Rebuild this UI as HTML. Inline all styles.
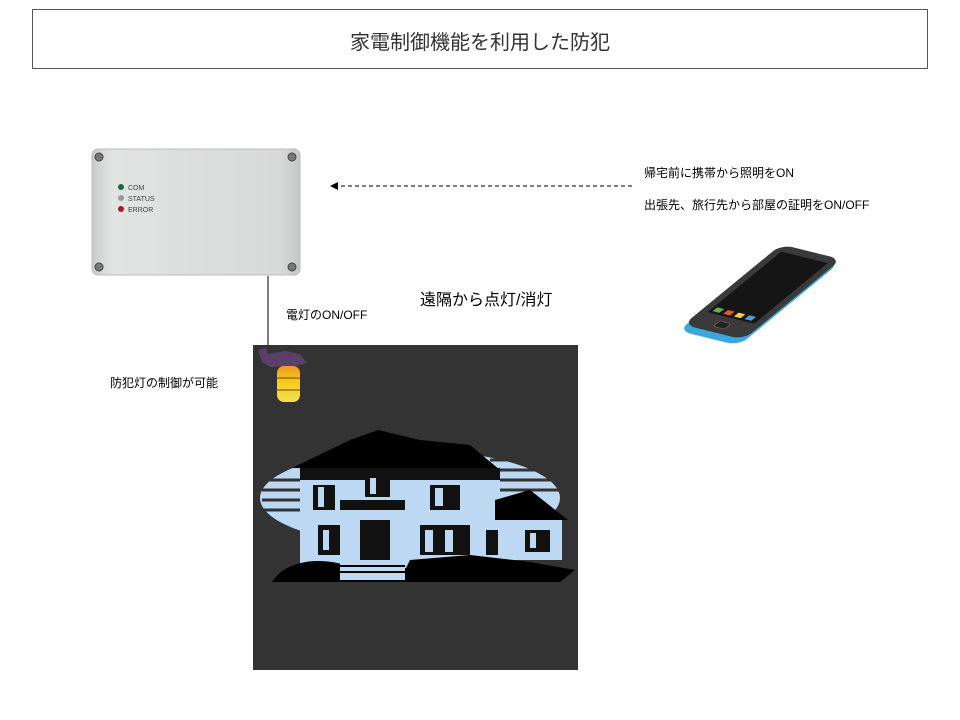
<!DOCTYPE html>
<html><head><meta charset="utf-8"><style>
body{margin:0;width:960px;height:720px;background:#fff;position:relative;overflow:hidden;font-family:"Liberation Sans","Noto Sans CJK JP",sans-serif;}
.t{position:absolute;white-space:nowrap;color:#000;}
</style></head><body>
<div style="position:absolute;left:32px;top:9px;width:894px;height:58px;border:1px solid #555;"></div>
<div class="t" style="left:0;width:960px;top:26px;text-align:center;font-size:20px;color:#333;">家電制御機能を利用した防犯</div>

<svg width="960" height="720" style="position:absolute;left:0;top:0">
<defs>
<linearGradient id="bx" x1="0" x2="1"><stop offset="0" stop-color="#c9cccb"/><stop offset="0.1" stop-color="#e2e4e3"/><stop offset="0.9" stop-color="#d8dad9"/><stop offset="1" stop-color="#c4c7c6"/></linearGradient>
<linearGradient id="lp" x1="0" x2="0" y1="0" y2="1"><stop offset="0" stop-color="#e89b20"/><stop offset="0.5" stop-color="#f5d020"/><stop offset="1" stop-color="#f0e050"/></linearGradient>
</defs>
<rect x="92" y="149" width="208" height="126" rx="6" fill="url(#bx)" stroke="#bbb"/>
<g fill="#777" stroke="#444"><circle cx="99" cy="157" r="4"/><circle cx="292" cy="157" r="4"/><circle cx="99" cy="267" r="4"/><circle cx="292" cy="267" r="4"/></g>
<circle cx="121" cy="187" r="3" fill="#1a6a4a"/><circle cx="121" cy="198" r="3" fill="#999"/><circle cx="121" cy="209" r="3" fill="#a02020"/>
<text x="128" y="190" font-size="7" fill="#444" font-family="Liberation Sans">COM</text>
<text x="128" y="201" font-size="7" fill="#444" font-family="Liberation Sans">STATUS</text>
<text x="128" y="212" font-size="7" fill="#444" font-family="Liberation Sans">ERROR</text>
<line x1="268" y1="276" x2="268" y2="352" stroke="#000" stroke-width="1"/>
<line x1="632" y1="186" x2="338" y2="186" stroke="#000" stroke-dasharray="4,3"/>
<polygon points="330,186 338,182 338,190" fill="#000"/>
<rect x="253" y="345" width="325" height="325" fill="#333"/>
<path d="M258 350 L266 348 L268 354 L285 351 L300 354 L307 363 L296 366 L270 367 L262 362 Z" fill="#5a3f6a"/>
<rect x="277" y="366" width="23" height="36" rx="7" fill="url(#lp)"/>
<g stroke="#a07018" stroke-width="1.5"><line x1="277" y1="378" x2="300" y2="378"/><line x1="277" y1="390" x2="300" y2="390"/></g>
<ellipse cx="410" cy="498" rx="150" ry="48" fill="#bcd8f2"/>
<g stroke="#333" stroke-width="3"><line x1="262" y1="480" x2="330" y2="480"/><line x1="262" y1="490" x2="330" y2="490"/><line x1="262" y1="500" x2="330" y2="500"/><line x1="262" y1="510" x2="330" y2="510"/><line x1="490" y1="460" x2="560" y2="460"/><line x1="490" y1="470" x2="560" y2="470"/><line x1="490" y1="480" x2="560" y2="480"/><line x1="490" y1="490" x2="560" y2="490"/></g>
<polygon points="292,468 350,440 378,430 420,440 470,445 500,470" fill="#000"/>
<rect x="300" y="468" width="200" height="100" fill="#bcd8f2"/>
<polygon points="495,500 530,490 568,520 495,520" fill="#000"/>
<rect x="500" y="520" width="62" height="40" fill="#bcd8f2"/>
<g fill="#111">
<rect x="300" y="468" width="200" height="12"/>
<rect x="313" y="485" width="22" height="25"/><rect x="365" y="475" width="25" height="22"/><rect x="430" y="485" width="30" height="25"/>
<rect x="318" y="525" width="22" height="30"/><rect x="360" y="520" width="30" height="40"/><rect x="420" y="525" width="50" height="30"/>
<rect x="486" y="530" width="12" height="25"/><rect x="525" y="530" width="25" height="22"/>
<rect x="340" y="500" width="65" height="10"/>
</g>
<g fill="#bcd8f2"><rect x="318" y="487" width="6" height="20"/><rect x="370" y="478" width="6" height="16"/><rect x="435" y="488" width="8" height="18"/><rect x="323" y="530" width="6" height="20"/><rect x="425" y="530" width="8" height="22"/><rect x="445" y="530" width="8" height="22"/><rect x="530" y="533" width="6" height="15"/></g>
<path d="M272 582 C290 555 330 560 345 565 L345 580 L400 580 L410 560 L470 555 L530 562 L575 570 L560 582 Z" fill="#000"/>
<rect x="340" y="560" width="65" height="20" fill="#bcd8f2"/>
<g stroke="#000" stroke-width="2"><line x1="340" y1="566" x2="405" y2="566"/><line x1="340" y1="572" x2="405" y2="572"/></g>
<g transform="matrix(0.97 0.24 -0.67 0.55 760 295)">
<rect x="-30" y="-72" width="62" height="150" rx="12" fill="#3aa8dc"/>
<rect x="-32" y="-78" width="62" height="146" rx="12" fill="#3a3a3a"/>
<rect x="-25" y="-68" width="48" height="110" fill="#151515"/>
<rect x="-7" y="50" width="12" height="10" rx="3" fill="#222" stroke="#666"/>
<rect x="-22" y="32" width="7" height="7" fill="#6ab04c"/><rect x="-11" y="32" width="7" height="7" fill="#e05a2a"/><rect x="0" y="32" width="7" height="7" fill="#f0d040"/><rect x="11" y="32" width="7" height="7" fill="#50a0d8"/>
</g>
</svg>

<div class="t" style="left:644px;top:164px;font-size:12px;">帰宅前に携帯から照明をON</div>
<div class="t" style="left:644px;top:196px;font-size:12px;">出張先、旅行先から部屋の証明をON/OFF</div>
<div class="t" style="left:420px;top:286px;font-size:16px;">遠隔から点灯/消灯</div>
<div class="t" style="left:286px;top:306px;font-size:12px;">電灯のON/OFF</div>
<div class="t" style="left:110px;top:374px;font-size:12px;">防犯灯の制御が可能</div>
</body></html>
